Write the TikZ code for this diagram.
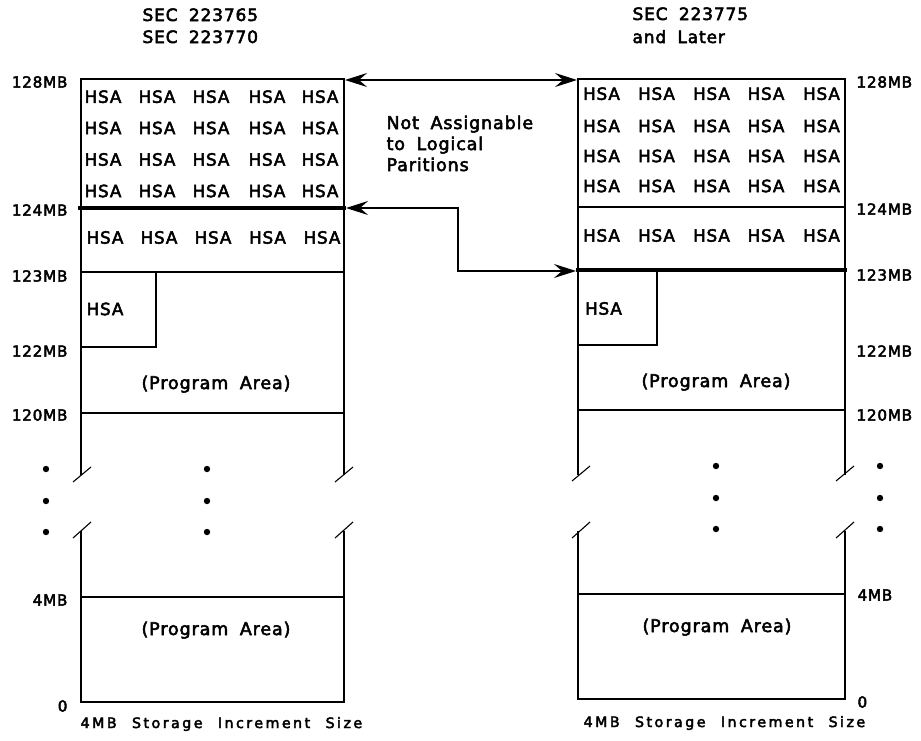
\documentclass[tikz,border=0pt]{standalone}
\usepackage{fontspec}
\setmainfont{DejaVu Sans}[LetterSpace=5,WordSpace=1.8,FakeBold=3]
\newfontfamily\footfont{DejaVu Sans}[LetterSpace=17,WordSpace=2.2,FakeBold=3]
\usetikzlibrary{arrows.meta}
\begin{document}
\begin{tikzpicture}[x=1pt,y=-1pt,line width=1.1pt,
  txt/.style={inner sep=0pt,font=\fontsize{17.5}{21}\selectfont},
  hsa/.style={inner sep=0pt,font=\fontsize{16.8}{20}\selectfont},
  mb/.style={inner sep=0pt,font=\fontsize{15.2}{18}\selectfont},
  ttl/.style={inner sep=0pt,anchor=base west,font=\fontsize{17}{20}\selectfont},
  foot/.style={inner sep=0pt,anchor=base west,font=\footfont\fontsize{14.3}{17}\selectfont},
  heavy/.style={line width=3.4pt},
  dot/.style={fill=black,draw=none},
  conn/.style={line width=1.2pt,{Stealth[length=22pt,width=14pt,inset=8pt]}-{Stealth[length=22pt,width=14pt,inset=8pt]}}]
\useasboundingbox (0,0) rectangle (921,740);

% ---------- titles ----------
\node[ttl] (t1) at (142,21) {SEC 223765};
\node[ttl] (t2) at (142,43) {SEC 223770};
\node[ttl] (t3) at (632,20) {SEC 223775};
\node[ttl] (t4) at (632,43) {and Later};

% ---------- left column ----------
\draw (81,475) -- (81,79) -- (344,79) -- (344,475);
\draw (81,531) -- (81,702) -- (344,702) -- (344,531);
\draw[heavy] (78,208) -- (346,208);
\draw (81,272) -- (344,272);
\draw (81,347) -- (156,347) -- (156,272);
\draw (81,413) -- (344,413);
\draw (81,597) -- (344,597);
\draw (73,482) -- (91,467);
\draw (73,538) -- (91,522);
\draw (335,482) -- (353,467);
\draw (335,538) -- (353,522);
\foreach \y in {469,501,532} {
  \fill[dot] (46,\y) circle (3.2pt);
  \fill[dot] (207,\y) circle (3.2pt);
}

\foreach \x in {103,157,211,267,320} {
  \node[hsa] at (\x,96.7) {HSA};
  \node[hsa] at (\x,128) {HSA};
  \node[hsa] at (\x,159.5) {HSA};
  \node[hsa] at (\x,191) {HSA};
}
\foreach \x in {105,159,213,267.5,322}
  \node[hsa] at (\x,237.5) {HSA};
\node[hsa] (lsmall) at (105,309) {HSA};

\node[txt,anchor=base] (lpa1) at (216,389) {(Program Area)};
\node[txt,anchor=base] (lpa2) at (216,635) {(Program Area)};

\node[mb,anchor=east] (l128) at (68,82) {128MB};
\node[mb,anchor=east] (l124) at (68,210) {124MB};
\node[mb,anchor=east] (l123) at (68,276) {123MB};
\node[mb,anchor=east] (l122) at (68,351) {122MB};
\node[mb,anchor=east] (l120) at (68,415) {120MB};
\node[mb,anchor=east] (l4) at (68,600) {4MB};
\node[mb,anchor=east] (l0) at (68,706) {0};
\node[foot] (lfoot) at (80,728) {4MB Storage Increment Size};

% ---------- right column ----------
\draw (578,475) -- (578,79) -- (845,79) -- (845,475);
\draw (578,531) -- (578,699) -- (845,699) -- (845,531);
\draw (578,207) -- (845,207);
\draw[heavy] (576,270) -- (847,270);
\draw (578,345) -- (657,345) -- (657,270);
\draw (578,410) -- (845,410);
\draw (578,594) -- (845,594);
\draw (572,481) -- (590,466);
\draw (572,538) -- (590,522);
\draw (836,481) -- (854,466);
\draw (836,538) -- (854,522);
\foreach \y in {466,498,529} {
  \fill[dot] (716,\y) circle (3.2pt);
  \fill[dot] (880,\y) circle (3.2pt);
}

\foreach \x in {601.5,656.5,711.5,766,821.5} {
  \node[hsa] at (\x,93.7) {HSA};
  \node[hsa] at (\x,126) {HSA};
  \node[hsa] at (\x,156) {HSA};
  \node[hsa] at (\x,186) {HSA};
  \node[hsa] at (\x,235.5) {HSA};
}
\node[hsa] (rsmall) at (603.5,308.5) {HSA};

\node[txt,anchor=base] (rpa1) at (716,387) {(Program Area)};
\node[txt,anchor=base] (rpa2) at (717,632) {(Program Area)};

\node[mb,anchor=west] (r128) at (856,82) {128MB};
\node[mb,anchor=west] (r124) at (856,209) {124MB};
\node[mb,anchor=west] (r123) at (856,275) {123MB};
\node[mb,anchor=west] (r122) at (856,351) {122MB};
\node[mb,anchor=west] (r120) at (856,415) {120MB};
\node[mb,anchor=west] (r4) at (857,595) {4MB};
\node[mb,anchor=west] (r0) at (857,702) {0};
\node[foot] (rfoot) at (583,727) {4MB Storage Increment Size};

% ---------- middle note and arrows ----------
\node[txt,anchor=base west] (note) at (386,129) {Not Assignable};
\node[txt,anchor=base west] (note2) at (386,150) {to Logical};
\node[txt,anchor=base west] (note3) at (386,171) {Paritions};

\coordinate (Ltop) at (345,80);
\coordinate (Rtop) at (577,80);
\coordinate (L124) at (346,208);
\coordinate (R123) at (576,271);
\draw[conn] (Ltop) -- (Rtop);
\draw[conn] (L124) -- (458,208) -- (458,271) -- (R123);
\end{tikzpicture}
\end{document}
